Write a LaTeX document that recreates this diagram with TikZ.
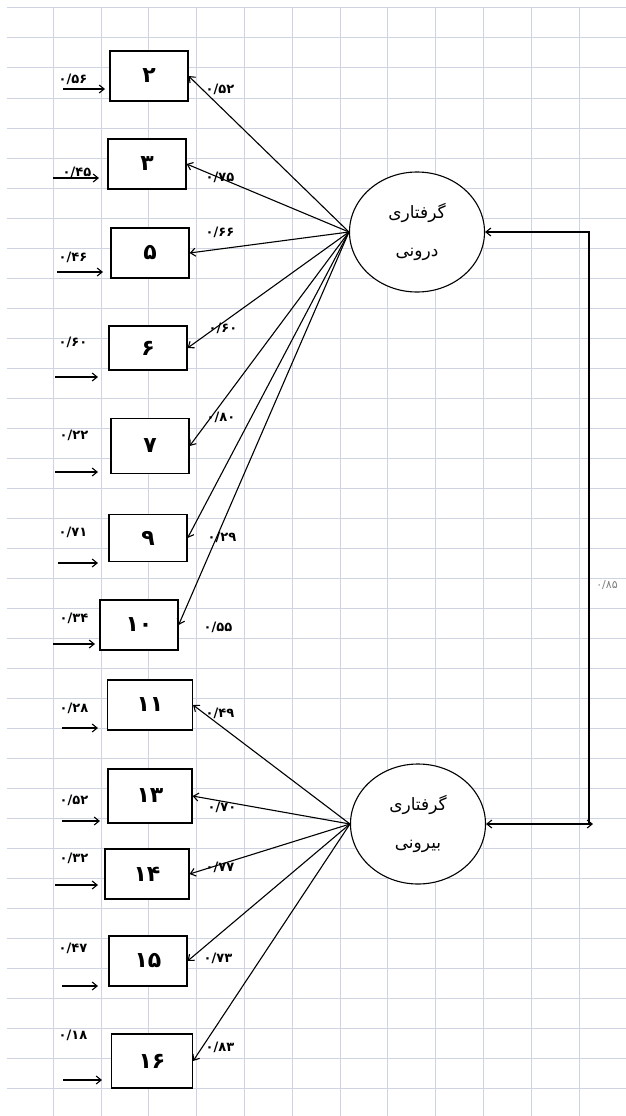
\documentclass[tikz,border=0pt]{standalone}
\usepackage{fontspec}
\usepackage{tikz}
\usetikzlibrary{shapes.geometric,arrows.meta}
\newfontfamily\arabicfont[Script=Arabic]{DejaVu Sans}
\TeXXeTstate=1
\definecolor{gridc}{RGB}{206,212,225}

\begin{document}
\begin{tikzpicture}[x=1pt, y=-1pt, >={Straight Barb[length=5pt, width=8pt]},
    obs/.style={draw, line width=1.2pt, fill=white, minimum width=78pt, minimum height=50pt,
        font=\arabicfont\bfseries\fontsize{22}{24}\selectfont},
    lat/.style={draw, line width=1.1pt, ellipse, fill=white, minimum width=135pt, minimum height=120pt,
        align=center, font=\arabicfont\fontsize{17}{38}\selectfont},
    ld/.style={font=\arabicfont\bfseries\fontsize{13}{15}\selectfont},
    gridline/.style={gridc, line width=1pt},
    path/.style={->, line width=1.1pt}]
    \useasboundingbox (0, 0) rectangle (626, 1116);
    \fill[white] (0, 0) rectangle (626, 1116);

    % sheet grid
    \foreach \i in {0,...,11}
        \draw[gridline] ({53.3+47.8*\i}, 8) -- ({53.3+47.8*\i}, 1116);
    \foreach \j in {0,...,36}
        \draw[gridline] (7, {8+30*\j}) -- (626, {8+30*\j});

    \node (m1) [lat] at (417, 232) {\beginR گرفتاری\endR\\\beginR درونی\endR};
    \node (m2) [lat] at (418, 824) {\beginR گرفتاری\endR\\\beginR بیرونی\endR};

    \node (b2) [obs] at (149, 76) {۲};
    \node (b3) [obs] at (147, 164) {۳};
    \node (b5) [obs] at (150, 253) {۵};
    \node (b6) [obs, minimum height=44pt] at (148, 348) {۶};
    \node (b7) [obs, minimum height=55pt] at (150, 446) {۷};
    \node (b9) [obs, minimum height=47pt] at (148, 538) {۹};
    \node (b10) [obs] at (139, 625) {۱۰};
    \node (b11) [obs, minimum width=85pt] at (150, 705) {۱۱};
    \node (b13) [obs, minimum width=84pt, minimum height=54pt] at (150, 796) {۱۳};
    \node (b14) [obs, minimum width=84pt] at (147, 874) {۱۴};
    \node (b15) [obs] at (148, 961) {۱۵};
    \node (b16) [obs, minimum width=81pt, minimum height=54pt] at (152, 1061) {۱۶};

    % loadings
    \node (l2) [ld] at (220, 89) {۰/۵۲};
    \node (l3) [ld] at (220, 177) {۰/۷۵};
    \node (l5) [ld] at (220, 232) {۰/۶۶};
    \node (l6) [ld] at (223, 328) {۰/۶۰};
    \node (l7) [ld] at (221, 417) {۰/۸۰};
    \node (l9) [ld] at (222, 537) {۰/۲۹};
    \node (l10) [ld] at (218, 627) {۰/۵۵};
    \node (l11) [ld] at (220, 713) {۰/۴۹};
    \node (l13) [ld] at (222, 807) {۰/۷۰};
    \node (l14) [ld] at (220, 867) {۰/۷۷};
    \node (l15) [ld] at (218, 958) {۰/۷۳};
    \node (l16) [ld] at (220, 1047) {۰/۸۳};

    % errors
    \node (e2) [ld] at (73, 79) {۰/۵۶};
    \node (e3) [ld] at (77, 172) {۰/۴۵};
    \node (e5) [ld] at (73, 257) {۰/۴۶};
    \node (e6) [ld] at (73, 342) {۰/۶۰};
    \node (e7) [ld] at (74, 435) {۰/۲۲};
    \node (e9) [ld] at (73, 532) {۰/۷۱};
    \node (e10) [ld] at (74, 618) {۰/۳۴};
    \node (e11) [ld] at (74, 708) {۰/۲۸};
    \node (e13) [ld] at (74, 800) {۰/۵۲};
    \node (e14) [ld] at (74, 858) {۰/۳۲};
    \node (e15) [ld] at (73, 948) {۰/۴۷};
    \node (e16) [ld] at (73, 1035) {۰/۱۸};

    \coordinate (u2) at (63, 89);   \coordinate (v2) at (105, 89);
    \coordinate (u3) at (53, 178);  \coordinate (v3) at (99, 178);
    \coordinate (u5) at (57, 272);  \coordinate (v5) at (103, 272);
    \coordinate (u6) at (55, 377);  \coordinate (v6) at (98, 377);
    \coordinate (u7) at (55, 472);  \coordinate (v7) at (98, 472);
    \coordinate (u9) at (58, 563);  \coordinate (v9) at (98, 563);
    \coordinate (u10) at (53, 644); \coordinate (v10) at (95, 644);
    \coordinate (u11) at (62, 728); \coordinate (v11) at (98, 728);
    \coordinate (u13) at (62, 821); \coordinate (v13) at (100, 821);
    \coordinate (u14) at (55, 885); \coordinate (v14) at (98, 885);
    \coordinate (u15) at (62, 986); \coordinate (v15) at (98, 986);
    \coordinate (u16) at (63, 1080); \coordinate (v16) at (102, 1080);

    \coordinate (c0) at (593, 824);
    \coordinate (c1) at (589, 824);
    \node (r) [font=\arabicfont\fontsize{11}{13}\selectfont, gray] at (607, 585) {۰/۸۵};

    \draw[path] (m1.west) -- (b2.east);
    \draw[path] (m1.west) -- (b3.east);
    \draw[path] (m1.west) -- (b5.east);
    \draw[path] (m1.west) -- (b6.east);
    \draw[path] (m1.west) -- (b7.east);
    \draw[path] (m1.west) -- (b9.east);
    \draw[path] (m1.west) -- (b10.east);
    \draw[path] (m2.west) -- (b11.east);
    \draw[path] (m2.west) -- (b13.east);
    \draw[path] (m2.west) -- (b14.east);
    \draw[path] (m2.west) -- (b15.east);
    \draw[path] (m2.west) -- (b16.east);

    \draw[path] (u2) -- (v2);
    \draw[path] (u3) -- (v3);
    \draw[path] (u5) -- (v5);
    \draw[path] (u6) -- (v6);
    \draw[path] (u7) -- (v7);
    \draw[path] (u9) -- (v9);
    \draw[path] (u10) -- (v10);
    \draw[path] (u11) -- (v11);
    \draw[path] (u13) -- (v13);
    \draw[path] (u14) -- (v14);
    \draw[path] (u15) -- (v15);
    \draw[path] (u16) -- (v16);

    \draw[path, <->] (m2.east) -- (c0);
    \draw[path] (c1) |- (m1.east);
\end{tikzpicture}
\end{document}
